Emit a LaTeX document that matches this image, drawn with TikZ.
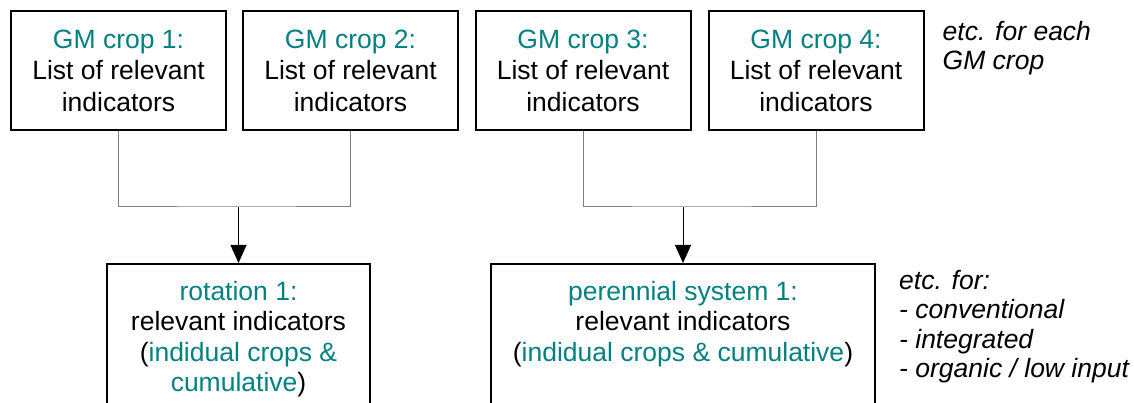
\documentclass[tikz,border=0pt]{standalone}
\usepackage{fontspec}
\setmainfont{Liberation Sans}
\usepackage{xcolor}
\definecolor{gmteal}{RGB}{0,128,128}
\usetikzlibrary{arrows.meta,positioning}

\begin{document}
\begin{tikzpicture}[x=1pt,y=-1pt,font=\fontsize{26.5}{30.5}\selectfont,
		box/.style={draw,line width=2pt,align=center,minimum width=215pt,minimum height=119pt,inner sep=0pt,font=\fontsize{26.5}{31.5}\selectfont},
		syst/.style={draw,line width=2pt,minimum height=170pt,anchor=north},
		merge/.style={gray,line width=1pt},
		feed/.style={line width=1pt,-{Triangle[width=16pt,length=18pt]}},
		note/.style={align=left,inner sep=0pt,anchor=north west,font=\fontsize{26.5}{29.5}\selectfont\itshape}]
		\useasboundingbox (0,0) rectangle (1134,403);
		\foreach \i/\x in {1/118.5,2/350.5,3/583,4/816}
			\node[box] (gm\i) at (\x,70.5) {\textcolor{gmteal}{GM crop \i:}\\List of relevant\\indicators};
		\node[syst,minimum width=263pt] (rot) at (238.5,263) {};
		\node[syst,minimum width=384pt] (per) at (683,263) {};
		\node[inner sep=0pt,align=center,below=18pt of rot.north] (rottext) {\textcolor{gmteal}{rotation 1:}\\relevant indicators\\(\textcolor{gmteal}{indidual crops \&}\\\textcolor{gmteal}{cumulative})};
		\node[inner sep=0pt,align=center,below=18pt of per.north] (pertext) {\textcolor{gmteal}{perennial system 1:}\\relevant indicators\\(\textcolor{gmteal}{indidual crops \& cumulative})};
		\node[note] (gmnote) at ([xshift=18pt,yshift=-11pt]gm4.north east) {etc. for each\\GM crop};
		\node[note] (sysnote) at ([xshift=23pt,yshift=-7pt]per.north east) {etc. for:\\- conventional\\- integrated\\- organic / low input};
		% joining the crop lists
		\coordinate (j1) at (238.5,207);
		\coordinate (j2) at (683,207);
		\draw[merge] (gm1.south) |- (j1) -| (gm2.south);
		\draw[merge] (gm3.south) |- (j2) -| (gm4.south);
		\draw[feed] (j1) -- (rot.north);
		\draw[feed] (j2) -- (per.north);
	\end{tikzpicture}
\end{document}
